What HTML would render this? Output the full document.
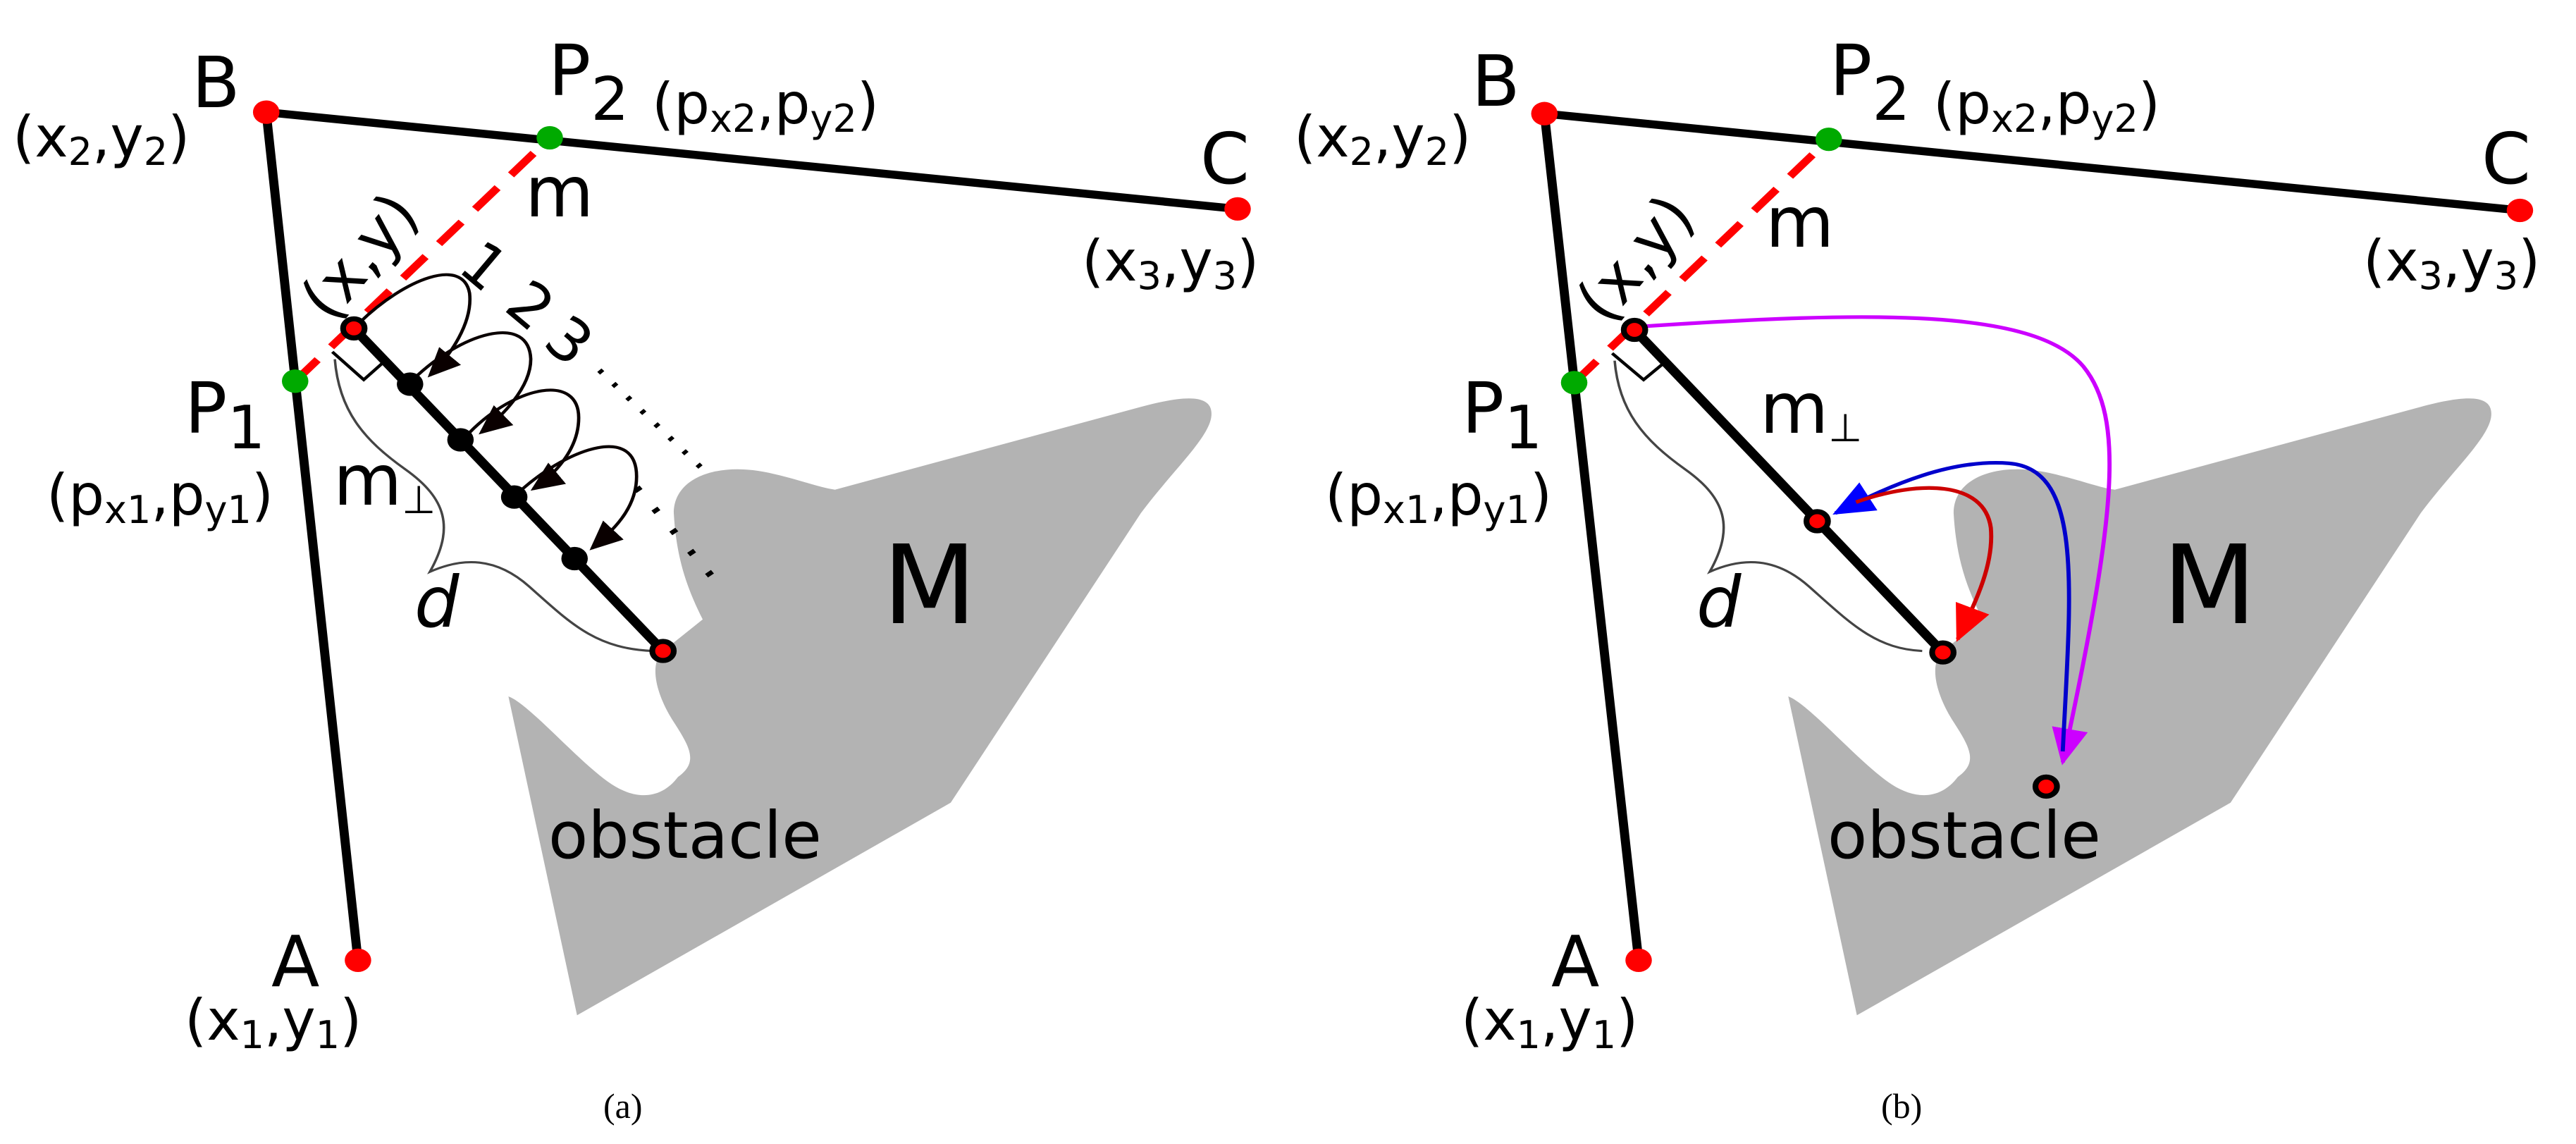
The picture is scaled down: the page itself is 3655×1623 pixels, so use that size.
<!DOCTYPE html>
<html><head><meta charset="utf-8"><style>
html,body{margin:0;padding:0;background:#fff;}
svg{display:block;}
text{font-family:"DejaVu Sans","Liberation Sans",sans-serif;fill:#000;}
.big{font-size:100px;}
.co{font-size:80px;}
.cap{font-family:"Liberation Serif",serif;font-size:50px;}
</style></head><body>
<svg width="3655" height="1623" viewBox="0 0 3655 1623" xmlns="http://www.w3.org/2000/svg">
<defs>
<marker id="ak" markerWidth="40" markerHeight="36" refX="36" refY="18" orient="auto" markerUnits="userSpaceOnUse"><path d="M0,0 L40,18 L0,36 Z" fill="#0a0000"/></marker>
<marker id="ab" markerWidth="50" markerHeight="44" refX="46" refY="22" orient="auto" markerUnits="userSpaceOnUse"><path d="M0,0 L50,22 L0,44 Z" fill="#0000ff"/></marker>
<marker id="ar" markerWidth="50" markerHeight="44" refX="46" refY="22" orient="auto" markerUnits="userSpaceOnUse"><path d="M0,0 L50,22 L0,44 Z" fill="#ff0000"/></marker>
<marker id="am" markerWidth="50" markerHeight="44" refX="46" refY="22" orient="auto" markerUnits="userSpaceOnUse"><path d="M0,0 L50,22 L0,44 Z" fill="#cc00ff"/></marker>
</defs>

<!-- LEFT PANEL -->
<g transform="scale(1.173,1.04)">
<path d="M615,950 C640,960 700,1040 740,1070 C770,1092 800,1090 820,1060 C845,1040 835,1020 815,985 C795,950 785,910 800,890 L850,845 C830,800 818,760 815,700 C815,650 870,630 930,645 C970,655 990,665 1010,668 L1380,555 C1430,540 1470,535 1465,570 C1460,600 1420,640 1380,700 L1150,1095 L698,1385 Z" fill="#b3b3b3"/>
<line x1="322" y1="153" x2="1497" y2="285" stroke="#000" stroke-width="11"/>
<line x1="322" y1="153" x2="433" y2="1310" stroke="#000" stroke-width="11"/>
<line x1="357" y1="520" x2="665" y2="188" stroke="#f00" stroke-width="10" stroke-dasharray="40,24"/>
<line x1="428" y1="448" x2="802" y2="888" stroke="#000" stroke-width="12"/>
<path d="M402,480 L440,518 L468,490" fill="none" stroke="#000" stroke-width="4"/>
<path d="M405,490 C410,560 440,600 490,640 C540,680 550,720 520,780 C560,760 600,760 640,800 C690,850 720,885 790,888" fill="none" stroke="#444" stroke-width="3"/>
<g fill="none" stroke="#0a0000" stroke-width="4">
<path d="M435,440 C490,380 560,350 568,400 C572,440 545,485 520,512" marker-end="url(#ak)"/>
<path d="M505,512 C565,450 640,430 642,490 C642,530 605,570 582,590" marker-end="url(#ak)"/>
<path d="M568,590 C625,525 700,510 700,570 C700,615 668,650 645,667" marker-end="url(#ak)"/>
<path d="M632,667 C690,610 770,580 770,650 C770,695 740,725 716,748" marker-end="url(#ak)"/>
</g>
<line x1="725" y1="505" x2="850" y2="640" stroke="#000" stroke-width="7" stroke-dasharray="5,20"/>
<line x1="770" y1="665" x2="860" y2="785" stroke="#000" stroke-width="9" stroke-dasharray="6,30"/>
<circle cx="496" cy="524" r="16"/><circle cx="557" cy="600" r="16"/><circle cx="622" cy="678" r="16"/><circle cx="695" cy="762" r="16"/>
<circle cx="428" cy="448" r="13" fill="#f00" stroke="#000" stroke-width="7"/>
<circle cx="802" cy="888" r="13" fill="#f00" stroke="#000" stroke-width="7"/>
<circle cx="322" cy="153" r="16" fill="#f00"/><circle cx="1497" cy="285" r="16" fill="#f00"/><circle cx="433" cy="1310" r="16" fill="#f00"/>
<circle cx="357" cy="520" r="16" fill="#0a0"/><circle cx="665" cy="188" r="16" fill="#0a0"/>
</g>
<text class="big" x="272" y="152">B</text>
<text class="co" x="18" y="222">(x<tspan font-size="54" dy="12">2</tspan><tspan dy="-12">,y</tspan><tspan font-size="54" dy="12">2</tspan><tspan dy="-12">)</tspan></text>
<text class="big" x="778" y="135">P<tspan font-size="85" dy="35">2</tspan></text>
<text class="co" x="925" y="175">(p<tspan font-size="54" dy="12">x2</tspan><tspan dy="-12">,p</tspan><tspan font-size="54" dy="12">y2</tspan><tspan dy="-12">)</tspan></text>
<text class="big" x="1703" y="260">C</text>
<text class="co" x="1535" y="398">(x<tspan font-size="54" dy="12">3</tspan><tspan dy="-12">,y</tspan><tspan font-size="54" dy="12">3</tspan><tspan dy="-12">)</tspan></text>
<text class="big" x="745" y="307">m</text>
<text class="big" x="262" y="614">P<tspan font-size="85" dy="22">1</tspan></text>
<text class="co" x="66" y="730">(p<tspan font-size="54" dy="12">x1</tspan><tspan dy="-12">,p</tspan><tspan font-size="54" dy="12">y1</tspan><tspan dy="-12">)</tspan></text>
<text class="big" x="473" y="716">m<tspan font-size="55" dy="12">⊥</tspan></text>
<text class="big" x="588" y="889" font-style="italic">d</text>
<text x="1252" y="884" font-size="155">M</text>
<text x="778" y="1217" font-size="92">obstacle</text>
<text class="big" x="385" y="1399">A</text>
<text class="co" x="262" y="1475">(x<tspan font-size="54" dy="12">1</tspan><tspan dy="-12">,y</tspan><tspan font-size="54" dy="12">1</tspan><tspan dy="-12">)</tspan></text>
<text font-size="88" transform="translate(512,365) rotate(-50)" text-anchor="middle" dy="28">(x,y)</text>
<text font-size="85" transform="translate(687,377) rotate(40)" text-anchor="middle" dy="30">1</text>
<text font-size="85" transform="translate(753,433) rotate(40)" text-anchor="middle" dy="30">2</text>
<text font-size="85" transform="translate(808,483) rotate(40)" text-anchor="middle" dy="30">3</text>
<text class="cap" x="856" y="1586">(a)</text>

<!-- RIGHT PANEL -->
<g transform="translate(1830,0) scale(1.173,1.04)">
<path d="M603,950 C628,960 688,1040 728,1070 C758,1092 788,1090 808,1060 C833,1040 823,1020 803,985 C783,950 773,910 788,890 L838,845 C818,800 806,760 803,700 C803,650 858,630 918,645 C958,655 978,665 998,668 L1368,555 C1418,540 1458,535 1453,570 C1448,600 1408,640 1368,700 L1138,1095 L686,1385 Z" fill="#b3b3b3"/>
<line x1="308" y1="155" x2="1488" y2="287" stroke="#000" stroke-width="11"/>
<line x1="308" y1="155" x2="422" y2="1310" stroke="#000" stroke-width="11"/>
<line x1="344" y1="522" x2="652" y2="190" stroke="#f00" stroke-width="10" stroke-dasharray="40,24"/>
<line x1="417" y1="450" x2="790" y2="890" stroke="#000" stroke-width="12"/>
<path d="M390,482 L428,518 L456,492" fill="none" stroke="#000" stroke-width="4"/>
<path d="M393,492 C398,560 428,600 478,640 C528,680 538,720 508,780 C548,760 588,760 628,800 C678,850 708,885 765,888" fill="none" stroke="#444" stroke-width="3"/>
<path d="M430,445 C700,425 900,420 960,500 C1010,570 1000,700 935,1040" fill="none" stroke="#cc00ff" stroke-width="5" marker-end="url(#am)"/>
<path d="M935,1025 C945,800 960,640 870,632 C800,626 730,660 660,700" fill="none" stroke="#0000cc" stroke-width="5" marker-end="url(#ab)"/>
<path d="M685,685 C760,655 840,655 848,720 C852,770 830,820 808,872" fill="none" stroke="#cc0000" stroke-width="5" marker-end="url(#ar)"/>
<circle cx="417" cy="450" r="13" fill="#f00" stroke="#000" stroke-width="7"/>
<circle cx="638" cy="711" r="13" fill="#f00" stroke="#000" stroke-width="7"/>
<circle cx="790" cy="890" r="13" fill="#f00" stroke="#000" stroke-width="7"/>
<circle cx="915" cy="1073" r="13" fill="#f00" stroke="#000" stroke-width="7"/>
<circle cx="308" cy="155" r="16" fill="#f00"/><circle cx="1488" cy="287" r="16" fill="#f00"/><circle cx="422" cy="1310" r="16" fill="#f00"/>
<circle cx="344" cy="522" r="16" fill="#0a0"/><circle cx="652" cy="190" r="16" fill="#0a0"/>
</g>
<text class="big" x="2088" y="150">B</text>
<text class="co" x="1836" y="222">(x<tspan font-size="54" dy="12">2</tspan><tspan dy="-12">,y</tspan><tspan font-size="54" dy="12">2</tspan><tspan dy="-12">)</tspan></text>
<text class="big" x="2596" y="135">P<tspan font-size="85" dy="35">2</tspan></text>
<text class="co" x="2743" y="175">(p<tspan font-size="54" dy="12">x2</tspan><tspan dy="-12">,p</tspan><tspan font-size="54" dy="12">y2</tspan><tspan dy="-12">)</tspan></text>
<text class="big" x="3521" y="260">C</text>
<text class="co" x="3353" y="398">(x<tspan font-size="54" dy="12">3</tspan><tspan dy="-12">,y</tspan><tspan font-size="54" dy="12">3</tspan><tspan dy="-12">)</tspan></text>
<text class="big" x="2505" y="350">m</text>
<text class="big" x="2074" y="614">P<tspan font-size="85" dy="22">1</tspan></text>
<text class="co" x="1880" y="730">(p<tspan font-size="54" dy="12">x1</tspan><tspan dy="-12">,p</tspan><tspan font-size="54" dy="12">y1</tspan><tspan dy="-12">)</tspan></text>
<text class="big" x="2497" y="614">m<tspan font-size="55" dy="12">⊥</tspan></text>
<text class="big" x="2407" y="889" font-style="italic">d</text>
<text x="3068" y="884" font-size="155">M</text>
<text x="2593" y="1217" font-size="92">obstacle</text>
<text class="big" x="2201" y="1399">A</text>
<text class="co" x="2073" y="1475">(x<tspan font-size="54" dy="12">1</tspan><tspan dy="-12">,y</tspan><tspan font-size="54" dy="12">1</tspan><tspan dy="-12">)</tspan></text>
<text font-size="88" transform="translate(2322,368) rotate(-50)" text-anchor="middle" dy="28">(x,y)</text>
<text class="cap" x="2669" y="1586">(b)</text>
</svg>
</body></html>
